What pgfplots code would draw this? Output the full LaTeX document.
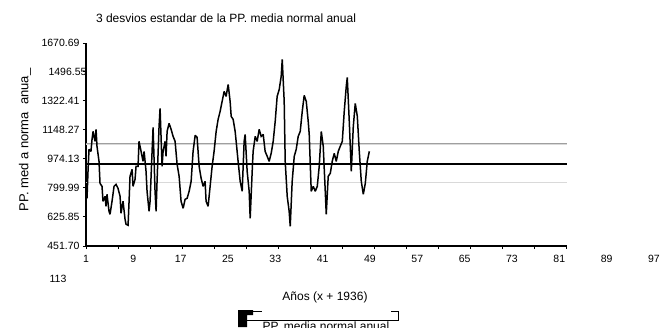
\documentclass[border=0pt]{standalone}
\usepackage{fontspec}
\setmainfont{Liberation Sans}
\usepackage{pgfplots}
\pgfplotsset{compat=1.18}
\begin{document}
\begin{tikzpicture}[x=1pt,y=1pt]
\path[use as bounding box] (0,0) rectangle (667,327);
\begin{axis}[
  at={(86pt,81pt)}, anchor=south west,
  scale only axis, width=481pt, height=203pt,
  xmin=1, xmax=82.3, ymin=451.70, ymax=1670.69,
  axis lines=left,
  axis line style={-, line width=1.5pt},
  clip=false,
  tick align=outside,
  major tick length=3pt,
  tick style={black, line width=1pt},
  xtick={1,6.42,11.84,17.26,22.68,28.10,33.52,38.94,44.36,49.78,55.20,60.62,66.04,71.46,76.88,82.30},
  xticklabels={},
  extra x ticks={1,9,17,25,33,41,49,57,65,73,81},
  extra x tick labels={1,9,17,25,33,41,49,57,65,73,81},
  extra x tick style={major tick length=0pt},
  xticklabel style={yshift=-6pt},
  ytick={451.70,625.85,799.99,974.13,1148.27,1322.41,1670.69},
  yticklabels={451.70,625.85,799.99,974.13,1148.27,1322.41,1670.69},
  extra y ticks={1496.55},
  extra y tick labels={1496.55},
  extra y tick style={yticklabel style={xshift=7pt}},
  ticklabel style={font=\fontsize{10.5}{12}\selectfont},
]
\addplot[draw=gray!75, double=gray!30, double distance=0.9pt, line width=0.5pt, forget plot] coordinates {(1,1063) (82.3,1063)};
\addplot[draw=gray!75, double=gray!30, double distance=0.9pt, line width=0.5pt, forget plot] coordinates {(1,833) (82.3,833)};
\addplot[black, line width=1.6pt, forget plot] coordinates {(1,945) (82.3,945)};
\addplot[black, line width=1.5pt, sharp plot, line join=miter, miter limit=2] coordinates {
(1.00,780) (1.17,738) (1.34,900) (1.51,1032) (1.84,1020) (2.02,1092) (2.19,1140) (2.52,1080) (2.70,1152) (2.86,1050)
(3.20,960) (3.37,828) (3.71,810) (3.87,720) (4.22,750) (4.38,690) (4.55,762) (4.89,660) (5.06,642) (5.40,720)
(5.74,810) (6.08,822) (6.41,798) (6.76,750) (6.92,648) (7.26,720) (7.60,612) (7.77,582) (8.11,576) (8.28,720)
(8.44,870) (8.79,912) (8.95,810) (9.29,852) (9.46,930) (9.80,930) (9.96,1080) (10.31,1020) (10.64,960) (10.82,1020)
(11.15,900) (11.32,780) (11.66,660) (11.83,720) (12.17,1020) (12.34,1164) (12.67,780) (12.85,660) (13.01,840) (13.35,1170)
(13.52,1278) (13.86,930) (14.03,1020) (14.37,1080) (14.53,990) (14.71,1140) (15.04,1188) (15.39,1152) (15.72,1110) (16.06,1080)
(16.40,942) (16.74,870) (17.07,720) (17.42,678) (17.75,732) (18.09,738) (18.43,780) (18.77,840) (19.10,1020) (19.45,1116)
(19.78,1104) (20.12,930) (20.46,858) (20.80,810) (21.13,840) (21.30,720) (21.64,690) (21.98,810) (22.32,930) (22.65,1020)
(23.00,1140) (23.33,1212) (23.67,1260) (24.01,1320) (24.35,1380) (24.68,1350) (25.03,1422) (25.36,1320) (25.54,1230) (25.87,1212)
(26.21,1140) (26.38,1080) (26.71,960) (27.06,840) (27.40,780) (27.73,1080) (27.90,1122) (28.24,900) (28.58,780) (28.75,618)
(29.09,900) (29.25,1020) (29.60,1110) (29.93,1080) (30.27,1152) (30.61,1110) (30.95,1122) (31.28,1020) (31.63,990) (31.96,960)
(32.30,1008) (32.64,1080) (32.98,1200) (33.31,1350) (33.66,1392) (33.99,1470) (34.17,1572) (34.50,1320) (34.67,960) (35.01,750)
(35.34,660) (35.52,570) (35.85,840) (36.20,990) (36.53,1032) (36.87,1110) (37.21,1140) (37.55,1260) (37.88,1356) (38.23,1320)
(38.56,1200) (38.73,1122) (39.07,780) (39.41,810) (39.75,780) (40.09,810) (40.42,930) (40.77,1140) (41.10,1050) (41.44,780)
(41.61,642) (41.94,870) (42.29,888) (42.62,960) (42.96,1008) (43.30,960) (43.64,1020) (43.97,1050) (44.32,1080) (44.65,1260)
(44.99,1410) (45.16,1464) (45.50,1200) (45.84,900) (46.18,1170) (46.51,1308) (46.86,1230) (47.19,1020) (47.53,840) (47.87,762)
(48.21,828) (48.54,960) (48.89,1020)
};
\node[anchor=north, yshift=-6pt, font=\fontsize{10.5}{12}\selectfont] at (axis cs:89,451.70) {89};
\node[anchor=north, yshift=-6pt, font=\fontsize{10.5}{12}\selectfont] at (axis cs:97,451.70) {97};
\end{axis}
% title
\node[font=\fontsize{12}{14}\selectfont] at (226,309) {3 desvios estandar de la PP. media normal anual};
% y label
\node[rotate=90, font=\fontsize{13}{15}\selectfont] at (25,187) {PP. med a norma~~anua\_};
% stray label
\node[font=\fontsize{10.5}{12}\selectfont] at (58,48) {113};
% legend
\node[font=\fontsize{12}{14}\selectfont] at (325,30) {Años (x + 1936)};
\fill[black] (238,17) -- (253,17) -- (253,12) -- (247,12) -- (247,0) -- (238,0) -- cycle;
\draw[black, line width=1pt] (253,16) -- (262,16);
\draw[black, line width=1pt] (391,16) -- (398,16) -- (398,7) -- (247,7);
\node[anchor=north, inner sep=0pt, font=\fontsize{12}{14}\selectfont] at (326,5) {PP. media normal anual};
\end{tikzpicture}
\end{document}
